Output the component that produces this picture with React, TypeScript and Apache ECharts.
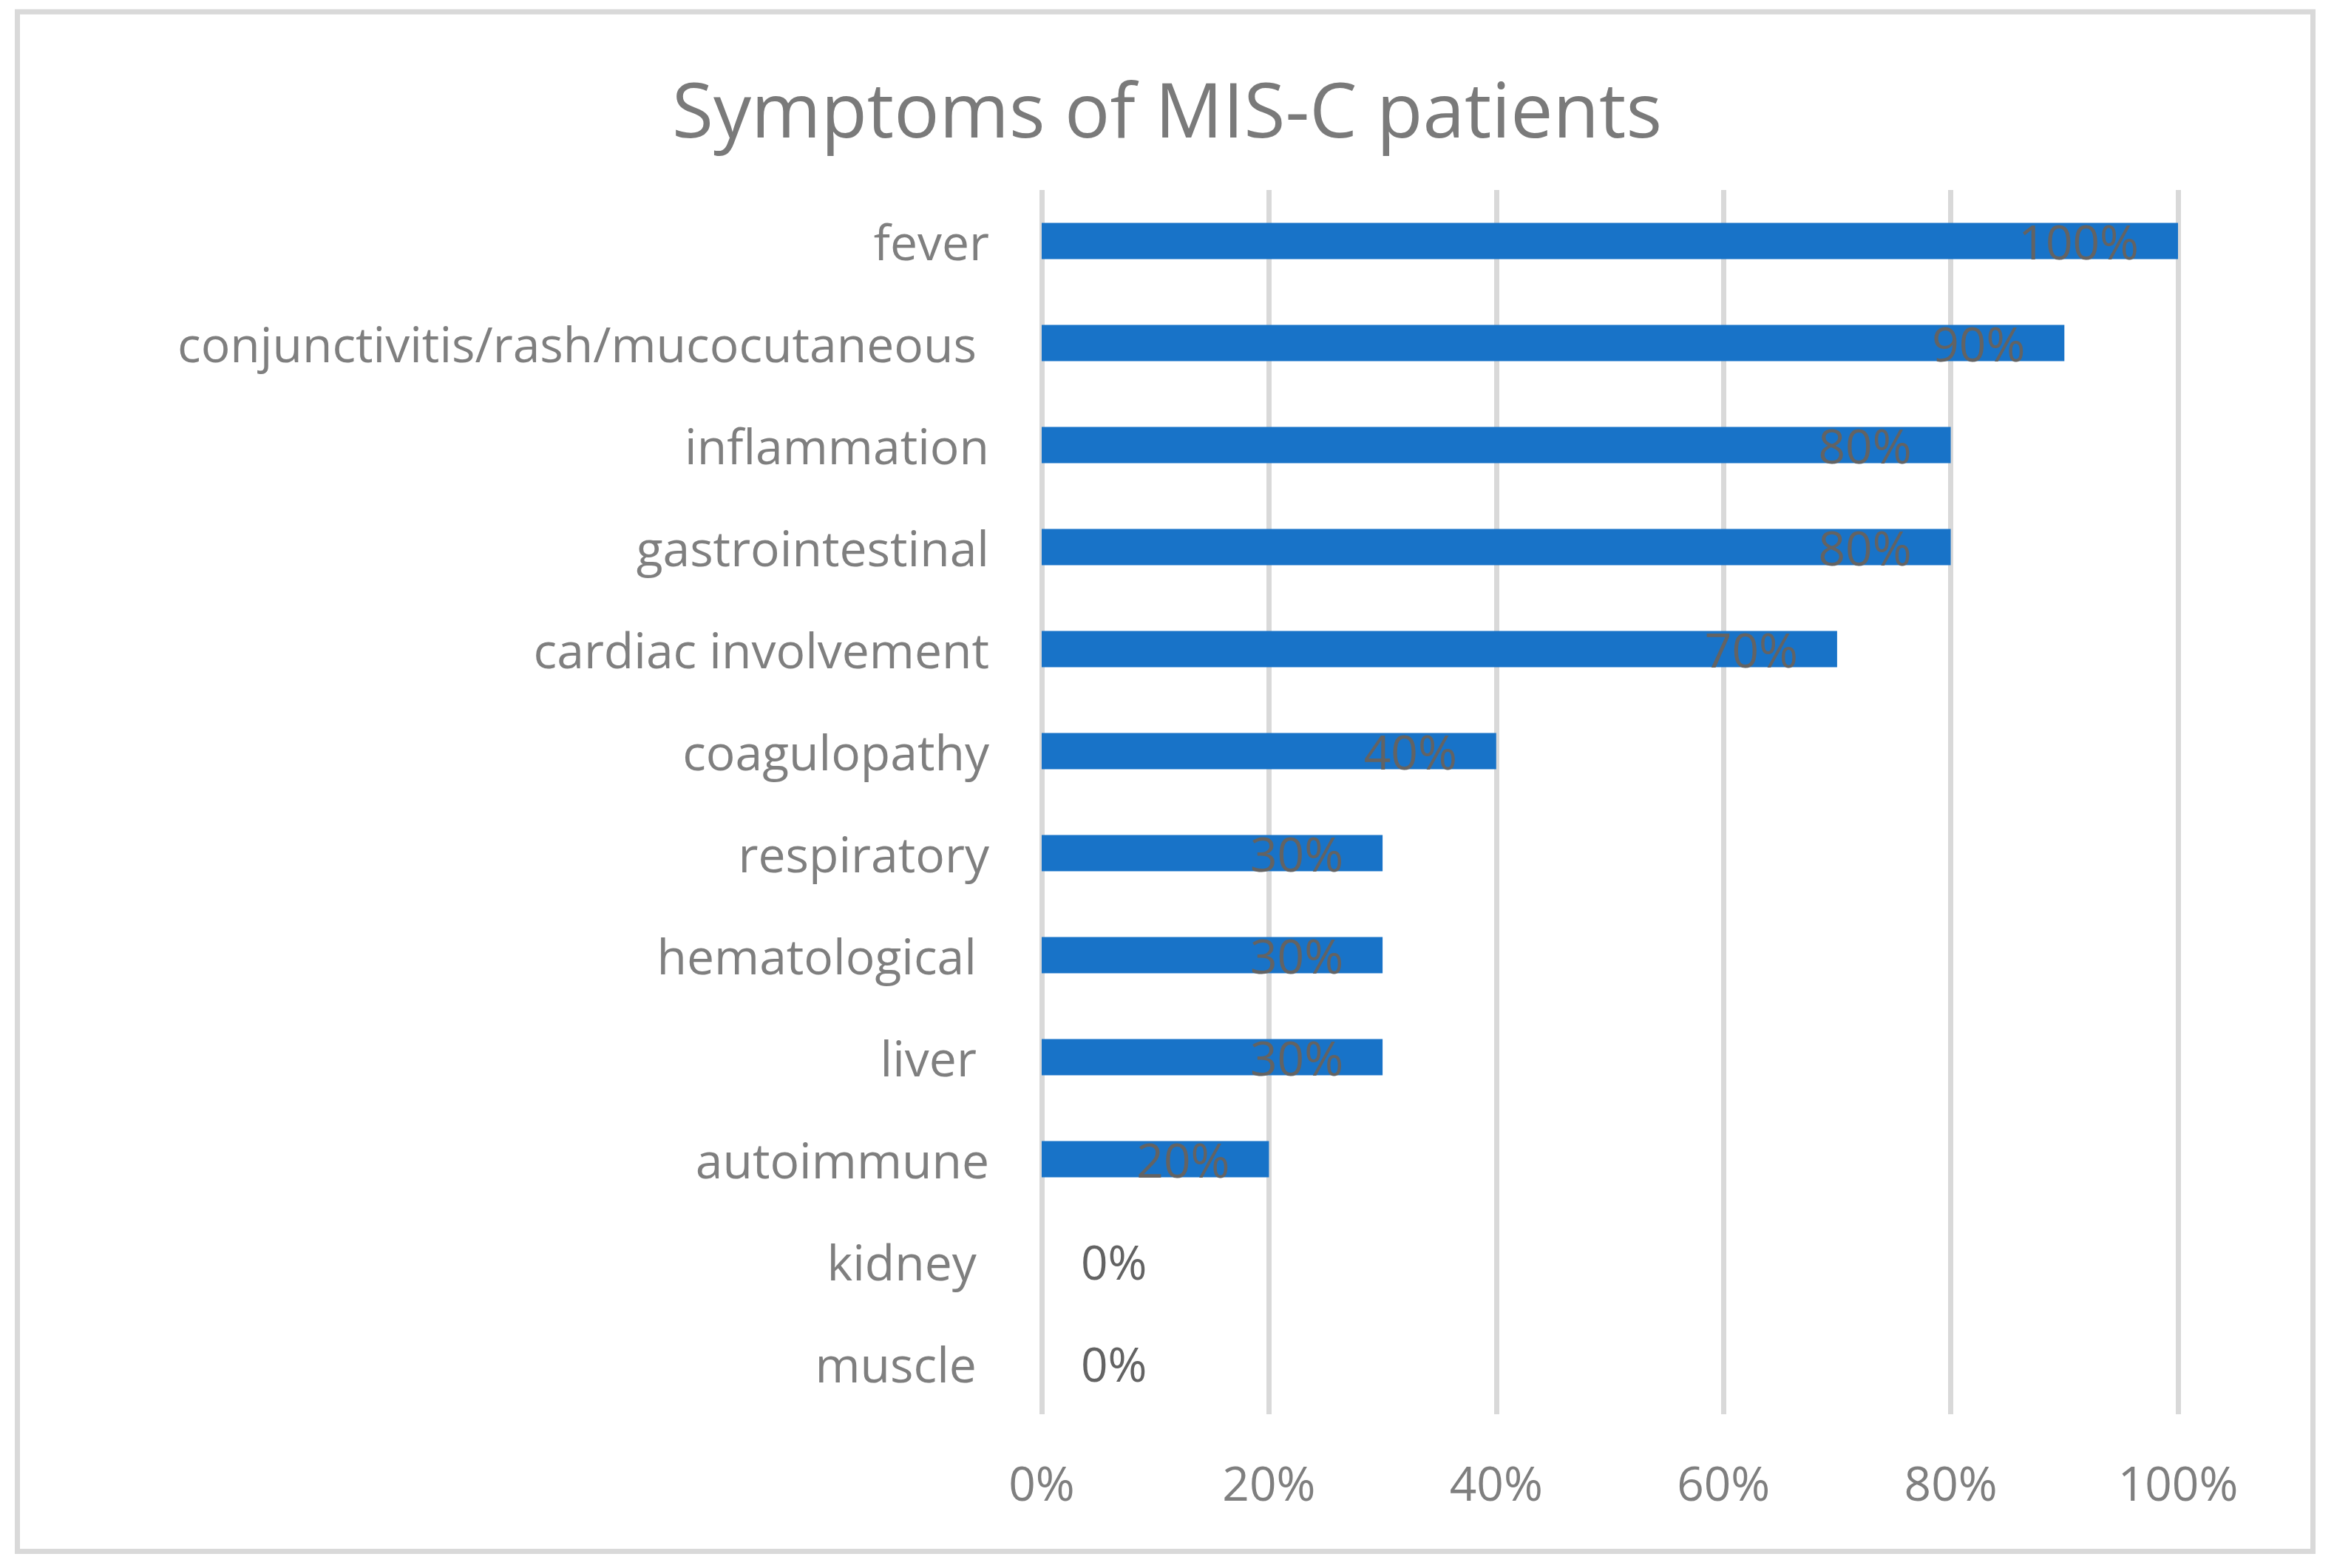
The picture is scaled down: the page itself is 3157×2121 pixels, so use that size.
import React, { useEffect, useRef } from "react";
import * as echarts from "echarts";

const categories = [
  "fever",
  "conjunctivitis/rash/mucocutaneous ",
  "inflammation",
  "gastrointestinal",
  "cardiac involvement",
  "coagulopathy",
  "respiratory",
  "hematological ",
  "liver ",
  "autoimmune",
  "kidney ",
  "muscle ",
];
const values = [100, 90, 80, 80, 70, 40, 30, 30, 30, 20, 0, 0];
const xTicks = [0, 20, 40, 60, 80, 100];
const titleText = "Symptoms of MIS-C patients";

const FONT = "Open Sans";

export default function App() {
  const ref = useRef<HTMLDivElement>(null);
  useEffect(() => {
    document.body.style.margin = "0";
    const chart = echarts.init(ref.current!, null, { renderer: "svg" });
    const data = values.map((v) =>
      v === 0
        ? { value: v, label: { position: "insideLeft" } }
        : { value: v }
    );
    chart.setOption({
      animation: false,
      backgroundColor: "#ffffff",
      title: {
        text: titleText,
        left: "center",
        top: 90,
        textStyle: {
          fontFamily: FONT,
          fontSize: 102,
          fontWeight: "normal",
          color: "#7a7a7a",
        },
      },
      graphic: [
        {
          type: "rect",
          shape: { x: 23.5, y: 16, width: 3105, height: 2082.5 },
          style: { fill: "none", stroke: "#d9d9d9", lineWidth: 7 },
          silent: true,
        },
      ],
      grid: { left: 1409, right: 211, top: 257, bottom: 208, containLabel: false },
      xAxis: {
        type: "value",
        min: xTicks[0],
        max: xTicks[xTicks.length - 1],
        interval: xTicks[1] - xTicks[0],
        axisLine: { show: false },
        axisTick: { show: false },
        splitLine: { show: true, lineStyle: { color: "#d9d9d9", width: 7 } },
        axisLabel: {
          formatter: (v: number) => v + "%",
          fontFamily: FONT,
          fontSize: 64,
          color: "#7f7f7f",
          margin: 60,
        },
      },
      yAxis: {
        type: "category",
        data: categories,
        inverse: true,
        axisLine: { show: false },
        axisTick: { show: false },
        axisLabel: {
          fontFamily: FONT,
          fontSize: 66,
          color: "#7f7f7f",
          margin: 71,
          padding: [0, 0, 8, 0],
        },
      },
      series: [
        {
          type: "bar",
          data,
          barWidth: 49,
          itemStyle: { color: "#1873c8" },
          label: {
            show: true,
            position: "insideRight",
            distance: 53,
            formatter: (p: any) => p.value + "%",
            fontFamily: FONT,
            fontSize: 64,
            color: "#636363",
          },
        },
      ],
    });
    return () => chart.dispose();
  }, []);
  return <div ref={ref} style={{ width: 3157, height: 2121 }} />;
}
